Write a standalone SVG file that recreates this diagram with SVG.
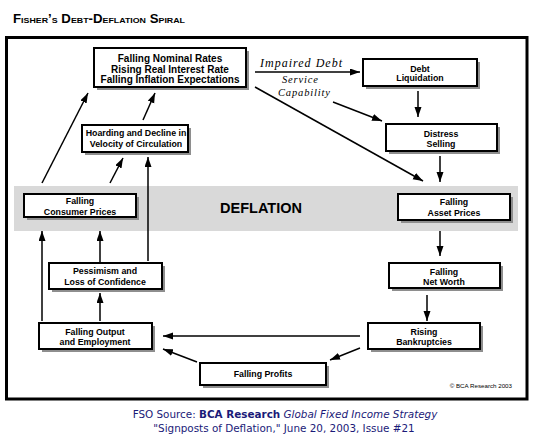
<svg xmlns="http://www.w3.org/2000/svg" width="533" height="444" viewBox="0 0 533 444">
<defs>
<marker id="ah" markerUnits="userSpaceOnUse" markerWidth="11" markerHeight="8" refX="10" refY="3.5" orient="auto">
<path d="M0,0 L10,3.5 L0,7 z" fill="#000"/>
</marker>
<style>
.box{fill:#fff;stroke:#000;stroke-width:2}
.sh{fill:#8e8e8e}
.t{font-family:"Liberation Sans",Arial,sans-serif;font-weight:bold;font-size:8.8px;text-anchor:middle;fill:#000}
.t1{font-size:10px}
.c line{stroke:#000;stroke-width:1.5;marker-end:url(#ah)}
.hw{font-family:"Liberation Serif",serif;font-style:italic;font-size:12px;fill:#000}
.hs{font-size:10.5px}
.src{font-family:"DejaVu Sans",Verdana,sans-serif;font-size:10.4px;fill:#1a1a78;text-anchor:middle}
</style>
</defs>
<rect width="533" height="444" fill="#fff"/>
<text x="13" y="23" font-family="Liberation Sans, Arial, sans-serif" font-weight="bold" font-size="12" font-variant="small-caps" textLength="172" lengthAdjust="spacingAndGlyphs">Fisher’s Debt-Deflation Spiral</text>
<rect x="6.5" y="37.5" width="520.5" height="361.5" fill="#fff" stroke="#000" stroke-width="3"/>
<rect x="14" y="186" width="504" height="45" fill="#d9d9d9"/>
<text x="261" y="213" font-family="Liberation Sans, Arial, sans-serif" font-weight="bold" font-size="14.5" text-anchor="middle">DEFLATION</text>

<g class="c" id="connectors">
<line x1="42" y1="183" x2="88" y2="93"/>
<line x1="143" y1="120" x2="155" y2="93"/>
<line x1="110" y1="183" x2="123" y2="158"/>
<line x1="148" y1="261" x2="148" y2="157"/>
<line x1="42" y1="321" x2="42" y2="231"/>
<line x1="100" y1="262" x2="100" y2="231"/>
<line x1="100" y1="321" x2="100" y2="293"/>
<line x1="360" y1="336" x2="163" y2="336"/>
<line x1="197" y1="362" x2="163" y2="349"/>
<line x1="360" y1="348" x2="330" y2="360"/>
<line x1="427" y1="295" x2="427" y2="321"/>
<line x1="440" y1="231" x2="440" y2="256"/>
<line x1="440" y1="156" x2="440" y2="182"/>
<line x1="418" y1="91" x2="418" y2="117"/>
<line x1="255" y1="72" x2="360" y2="72"/>
<line x1="333" y1="102" x2="382" y2="121"/>
<line x1="255" y1="87" x2="423" y2="181"/>
</g>
<g id="label-impaired">
<text class="hw" x="260" y="67" textLength="82" lengthAdjust="spacing">Impaired Debt</text>
<text class="hw hs" x="282" y="83" textLength="36" lengthAdjust="spacing">Service</text>
<text class="hw hs" x="278" y="96" textLength="52" lengthAdjust="spacing">Capability</text>
</g>

<g id="n-rates">
<rect class="sh" x="97" y="51" width="152" height="39"/>
<rect class="box" x="94" y="48" width="152" height="39"/>
<text class="t t1" x="170" y="62">Falling Nominal Rates</text>
<text class="t t1" x="170" y="72.5">Rising Real Interest Rate</text>
<text class="t t1" x="170" y="83">Falling Inflation Expectations</text>
</g>
<g id="n-hoarding">
<rect class="sh" x="85" y="128" width="106" height="27"/>
<rect class="box" x="82" y="125" width="106" height="27"/>
<text class="t" x="136" y="136">Hoarding and Decline in</text>
<text class="t" x="136" y="147">Velocity of Circulation</text>
</g>
<g id="n-consumer">
<rect class="sh" x="27" y="197" width="112" height="23"/>
<rect class="box" x="24" y="194" width="112" height="23"/>
<text class="t" x="80" y="204">Falling</text>
<text class="t" x="80" y="214.5">Consumer Prices</text>
</g>
<g id="n-pessimism">
<rect class="sh" x="52" y="266" width="113" height="26"/>
<rect class="box" x="49" y="263" width="113" height="26"/>
<text class="t" x="105" y="274">Pessimism and</text>
<text class="t" x="105" y="285">Loss of Confidence</text>
</g>
<g id="n-output">
<rect class="sh" x="42" y="326" width="113" height="26"/>
<rect class="box" x="39" y="323" width="113" height="26"/>
<text class="t" x="95" y="334.5">Falling Output</text>
<text class="t" x="95" y="345">and Employment</text>
</g>
<g id="n-profits">
<rect class="sh" x="203" y="366" width="126" height="22"/>
<rect class="box" x="200" y="363" width="126" height="22"/>
<text class="t" x="263" y="377">Falling Profits</text>
</g>
<g id="n-bankruptcies">
<rect class="sh" x="371" y="326" width="112" height="26"/>
<rect class="box" x="368" y="323" width="112" height="26"/>
<text class="t" x="424" y="334.5">Rising</text>
<text class="t" x="424" y="345">Bankruptcies</text>
</g>
<g id="n-networth">
<rect class="sh" x="392" y="266" width="111" height="25"/>
<rect class="box" x="389" y="263" width="111" height="25"/>
<text class="t" x="444" y="274.5">Falling</text>
<text class="t" x="444" y="285">Net Worth</text>
</g>
<g id="n-asset">
<rect class="sh" x="401" y="197" width="112" height="26"/>
<rect class="box" x="398" y="194" width="112" height="26"/>
<text class="t" x="454" y="205">Falling</text>
<text class="t" x="454" y="216">Asset Prices</text>
</g>
<g id="n-distress">
<rect class="sh" x="389" y="127" width="111" height="27"/>
<rect class="box" x="386" y="124" width="111" height="27"/>
<text class="t" x="441" y="137">Distress</text>
<text class="t" x="441" y="146.5">Selling</text>
</g>
<g id="n-debt">
<rect class="sh" x="366" y="62" width="114" height="27"/>
<rect class="box" x="363" y="59" width="114" height="27"/>
<text class="t" x="420" y="71.5">Debt</text>
<text class="t" x="420" y="81">Liquidation</text>
</g>

<text x="512" y="388" font-family="Liberation Sans, Arial, sans-serif" font-size="6.2" text-anchor="end">© BCA Research 2003</text>
<text class="src" x="285" y="418">FSO Source: <tspan font-weight="bold">BCA Research</tspan> <tspan font-style="italic">Global Fixed Income Strategy</tspan></text>
<text class="src" x="284" y="432">"Signposts of Deflation," June 20, 2003, Issue #21</text>
</svg>
